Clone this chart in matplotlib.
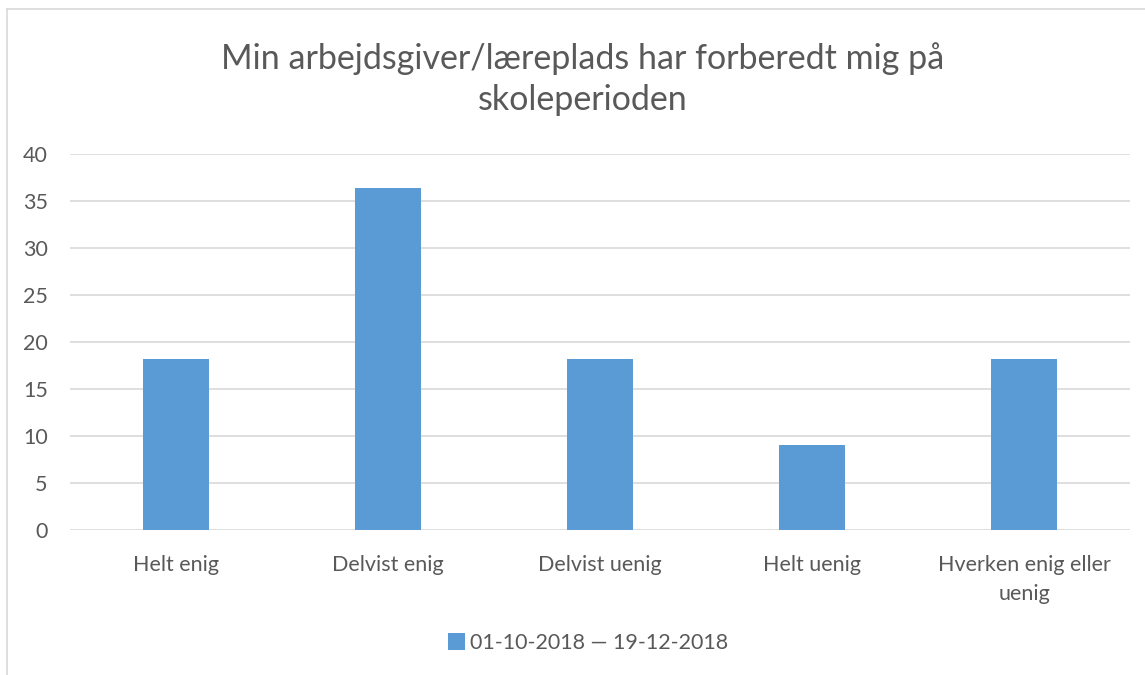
import matplotlib
matplotlib.use("Agg")
from matplotlib import pyplot as plt
from matplotlib.lines import Line2D
from matplotlib.patches import Patch

categories = ["Helt enig", "Delvist enig", "Delvist uenig", "Helt uenig", "Hverken enig eller\nuenig"]
values = [18.18, 36.36, 18.18, 9.09, 18.18]
series_name = "01-10-2018 \u2014 19-12-2018"
title = "Min arbejdsgiver/læreplads har forberedt mig på\nskoleperioden"

bar_color = "#5B9BD5"
text_color = "#595959"
grid_color = "#D9D9D9"

plt.rcParams["font.family"] = ["Lato", "DejaVu Sans"]

fig = plt.figure(figsize=(11.45, 6.75), dpi=100)
W, H = 1145, 675
ax = fig.add_axes([70 / W, 1 - 530 / H, (1130 - 70) / W, (530 - 154) / H])

x = range(len(categories))
ax.bar(x, values, width=0.316, color=bar_color, zorder=3)

ax.set_xlim(-0.5, len(categories) - 0.5)
ax.set_ylim(0, 40)
ax.set_yticks(range(0, 41, 5))
ax.set_xticks(list(x))
ax.set_xticklabels(categories, fontsize=15.5, color=text_color, linespacing=1.55)
ax.tick_params(axis="y", labelsize=15.5, labelcolor=text_color, length=0, pad=16)
ax.tick_params(axis="x", length=0, pad=18)
ax.grid(axis="y", color=grid_color, linewidth=1.2, zorder=0)
for s in ax.spines.values():
    s.set_visible(False)

fig.text(583 / W, 1 - 79 / H, title, ha="center", va="center", fontsize=24.5,
         color=text_color, linespacing=1.35)

handle = Patch(facecolor=bar_color, edgecolor="none")
fig.legend([handle], [series_name], loc="center", bbox_to_anchor=(588 / W, 1 - 643 / H),
           frameon=False, fontsize=15.5, labelcolor=text_color, handlelength=0.8,
           handleheight=0.8, handletextpad=0.2)

# chart frame: only the top and left edges fall inside the image
fig.add_artist(Line2D([7 / W, 7 / W], [0, 1 - 9 / H], color=grid_color, linewidth=1.2))
fig.add_artist(Line2D([7 / W, 1], [1 - 9 / H, 1 - 9 / H], color=grid_color, linewidth=1.2))

fig.savefig("out.png", dpi=100)
